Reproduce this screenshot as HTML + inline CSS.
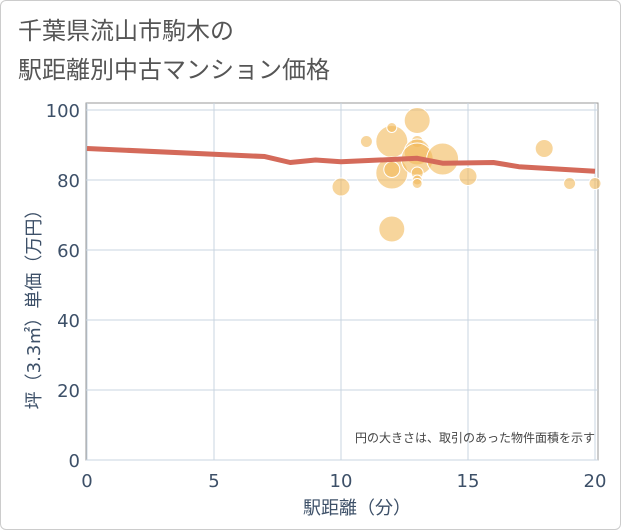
<!DOCTYPE html>
<html><head><meta charset="utf-8"><style>
body{margin:0;background:#fff;font-family:"DejaVu Sans","Noto Sans CJK JP",sans-serif;}
#wrap{position:relative;width:619px;height:528px;border:1px solid #ccc;border-radius:6px;overflow:hidden;}
</style></head><body>
<div id="wrap">
<svg id="c" width="621" height="530" style="position:absolute;left:-1px;top:-1px">
<text x="18" y="39" font-size="24" fill="#555">千葉県流山市駒木の</text>
<text x="18" y="78" font-size="24" fill="#555">駅距離別中古マンション価格</text>
<rect x="86" y="103" width="512" height="357" fill="#fff" stroke="#999"/>
<g id="grid"></g><g id="bubbles"></g><g id="line"></g><g id="ticks"></g>
<text x="595" y="442" font-size="12" fill="#444" text-anchor="end">円の大きさは、取引のあった物件面積を示す</text>
<text x="357" y="514" font-size="18" fill="#3d5068" text-anchor="middle">駅距離（分）</text>
<text transform="translate(40,305) rotate(-90)" font-size="18" fill="#3d5068" text-anchor="middle">坪（3.3㎡）単価（万円）</text>
</svg>
</div>
<script>
const xTicks=[0,5,10,15,20];
const yTicks=[0,20,40,60,80,100];
const lineX=[0,7,8,9,10,13,14,16,17,20];
const lineY=[89,86.7,85,85.7,85.2,86.2,84.8,85,83.8,82.5];
const bubX=[12,12,12,12,11,13,13,13,13,13,13,13,14,15,10,12,18,19,20];
const bubY=[91,82,95,83,91,97,91,88,86,82,80,79,86,81,78,66,89,79,79];
const bubR=[16,16,5,8,6,13,6,13,16,6,5,5,16,9,9,13,9,6,6];
const NS="http://www.w3.org/2000/svg";
const X=v=>87+v*25.4, Y=v=>460-v*3.5;
function mk(t,a,p){const e=document.createElementNS(NS,t);for(const k in a)e.setAttribute(k,a[k]);p.appendChild(e);return e;}
const g=document.getElementById('grid'),tk=document.getElementById('ticks');
xTicks.forEach(v=>{
 const l=mk('line',{x1:X(v),x2:X(v),y1:103,y2:460,stroke:'#c8d4e0'},g);
 
 
 const t=mk('text',{x:X(v),y:487,'font-size':18,fill:'#3d5068','text-anchor':'middle'},tk);t.textContent=v;
 
 
});
yTicks.forEach(v=>{
 const l=mk('line',{x1:86,x2:598,y1:Y(v),y2:Y(v),stroke:'#c8d4e0'},g);
 
 
 const t=mk('text',{x:80,y:Y(v)+7,'font-size':18,fill:'#3d5068','text-anchor':'end'},tk);t.textContent=v;
 
 
});
const b=document.getElementById('bubbles');
bubX.forEach((v,i)=>{
 const c=mk('circle',{cx:X(v),cy:Y(bubY[i]),r:bubR[i],fill:'rgba(242,185,90,0.6)',stroke:'#fff','stroke-width':1},b);
 
 
});
const p=mk('polyline',{points:lineX.map((v,i)=>X(v)+','+Y(lineY[i])).join(' '),fill:'none',stroke:'#d46a5a','stroke-width':5,'stroke-linejoin':'round'},document.getElementById('line'));


</script>
</body></html>
